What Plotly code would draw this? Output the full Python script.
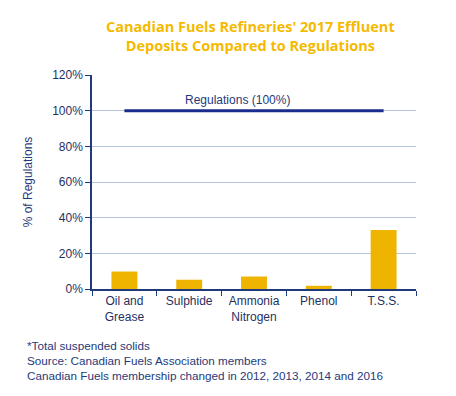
import plotly.graph_objects as go

categories = ["Oil and<br>Grease", "Sulphide", "Ammonia<br>Nitrogen", "Phenol", "T.S.S."]
values = [0.098, 0.052, 0.070, 0.018, 0.331]
regulation_level = 1.0
y_ticks = [0, 0.2, 0.4, 0.6, 0.8, 1.0, 1.2]

navy = "#1F3A7A"
gold = "#EEB400"
grid = "#B8C6DD"
font_fam = "Liberation Sans, Arial, sans-serif"

fig = go.Figure()
fig.add_trace(go.Bar(x=categories, y=values, marker_color=gold, marker_line_width=0,
                     showlegend=False))
fig.add_trace(go.Scatter(x=[categories[0], categories[-1]], y=[regulation_level, regulation_level],
                         mode="lines", line=dict(color="#1B2D8C", width=3), showlegend=False))

fig.add_annotation(text="Regulations (100%)", xref="paper", yref="y", x=0.448, y=regulation_level,
                   yanchor="bottom", yshift=2, showarrow=False,
                   font=dict(family=font_fam, size=12, color=navy))

fig.add_annotation(text="Canadian Fuels Refineries' 2017 Effluent<br>Deposits Compared to Regulations",
                   xref="paper", yref="paper", x=0.49, y=1.0, yshift=60, yanchor="top",
                   showarrow=False,
                   font=dict(family="Open Sans, sans-serif", size=14.5, color="#F5BA00", weight="bold"))

footer = "*Total suspended solids<br>Source: Canadian Fuels Association members<br>Canadian Fuels membership changed in 2012, 2013, 2014 and 2016"
fig.add_annotation(text=footer, xref="paper", yref="paper", x=-67.5 / 325, xanchor="left",
                   y=0, yshift=-48, yanchor="top", align="left", showarrow=False,
                   font=dict(family=font_fam, size=11.7, color=navy))

fig.update_layout(
    width=456, height=396,
    margin=dict(l=83.5, r=47.5, t=66.5, b=114.7),
    paper_bgcolor="white", plot_bgcolor="white",
    bargap=0.6,
    font=dict(family=font_fam, color=navy, size=12),
)
fig.update_xaxes(showline=True, linecolor=navy, linewidth=1.5, ticks="outside", tickson="boundaries",
                 ticklen=5, tickcolor=navy, showgrid=False, tickfont=dict(size=12, color="#1F2F5F"))
fig.update_yaxes(range=[0, 1.2], tickvals=y_ticks, tickformat=".0%", showline=True, linecolor=navy,
                 linewidth=1.5, ticks="outside", ticklen=5, tickcolor=navy, gridcolor=grid,
                 gridwidth=1, zeroline=False,
                 title=dict(text="% of Regulations", font=dict(size=12, color=navy), standoff=17),
                 tickfont=dict(size=12, color="#1F2F5F"))

fig.write_html("out.html")
